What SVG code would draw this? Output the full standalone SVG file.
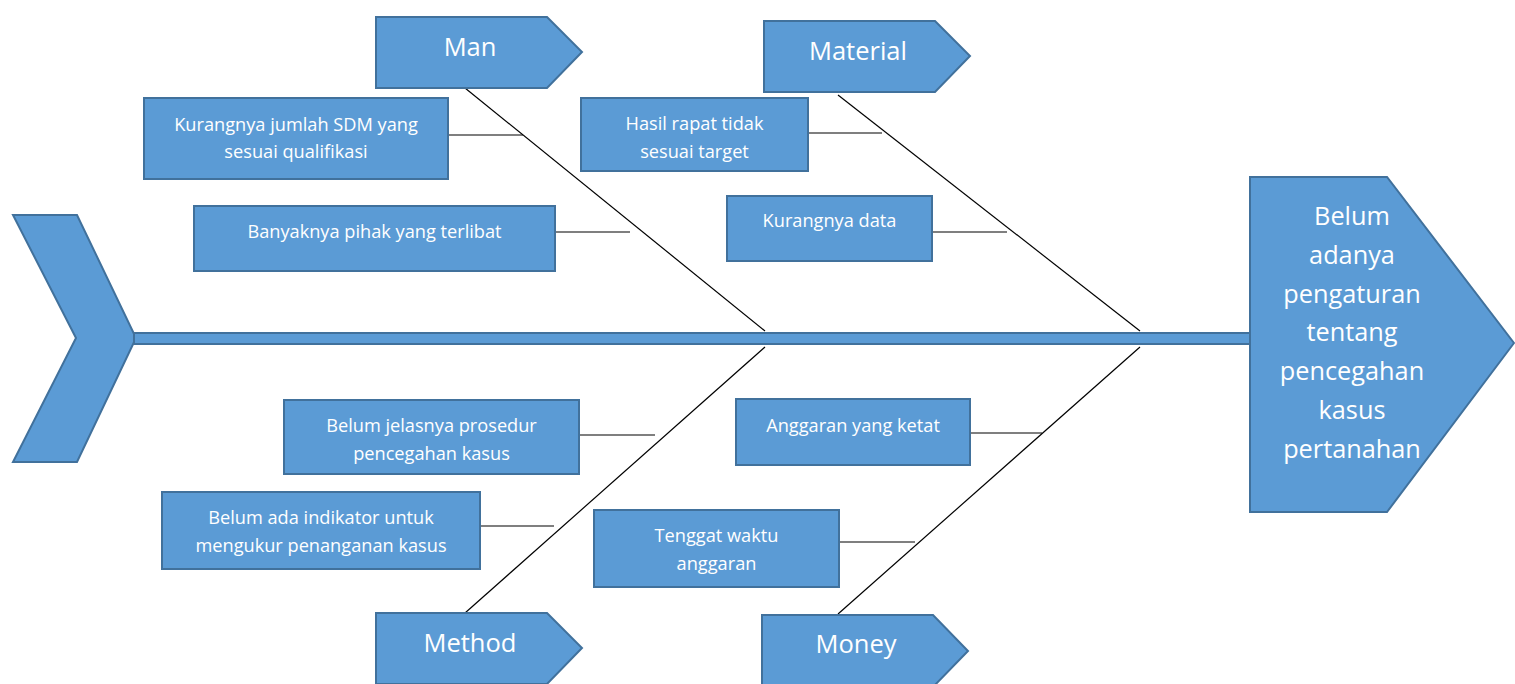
<svg xmlns="http://www.w3.org/2000/svg" width="1515" height="684" viewBox="0 0 1515 684">
<style>
.shape{fill:#5B9BD5;stroke:#41719C;stroke-width:2}
.bone{stroke:#000;stroke-width:1.2;fill:none}
.t{font-family:"Open Sans","Noto Sans",sans-serif;fill:#fff;text-anchor:middle;font-size:18.2px}
.cat{font-family:"Open Sans","Noto Sans",sans-serif;fill:#fff;text-anchor:middle;font-size:25.5px}
.head{font-family:"Open Sans","Noto Sans",sans-serif;fill:#fff;text-anchor:middle;font-size:25.3px}
</style>
<rect width="1515" height="684" fill="#fff"/>
<g id="tail"><polygon class="shape" points="13,215 77,215 136,338 77,462 13,462 76,338"/></g>
<g id="spine"><rect class="shape" x="134" y="333" width="1117" height="11"/></g>
<g id="connectors">
<line class="bone" x1="465" y1="88" x2="765" y2="331"/>
<line class="bone" x1="838" y1="95" x2="1140" y2="331"/>
<line class="bone" x1="765" y1="347" x2="465" y2="613"/>
<line class="bone" x1="1140" y1="347" x2="838" y2="614"/>
<line class="bone" x1="448" y1="135" x2="523" y2="135"/>
<line class="bone" x1="555" y1="232" x2="630" y2="232"/>
<line class="bone" x1="808" y1="133" x2="882" y2="133"/>
<line class="bone" x1="932" y1="232" x2="1007" y2="232"/>
<line class="bone" x1="579" y1="435" x2="655" y2="435"/>
<line class="bone" x1="480" y1="526" x2="554" y2="526"/>
<line class="bone" x1="970" y1="433" x2="1042" y2="433"/>
<line class="bone" x1="839" y1="542" x2="915" y2="542"/>
</g>
<g id="effect"><polygon class="shape" points="1250,177 1387,177 1514,343 1387,512 1250,512"/>
<text class="head" x="1352" y="225">Belum</text>
<text class="head" x="1352" y="264">adanya</text>
<text class="head" x="1352" y="303">pengaturan</text>
<text class="head" x="1352" y="341">tentang</text>
<text class="head" x="1352" y="380">pencegahan</text>
<text class="head" x="1352" y="419">kasus</text>
<text class="head" x="1352" y="458">pertanahan</text>
</g>
<g id="man"><polygon class="shape" points="376,17 547,17 582,52 547,88 376,88"/><text class="cat" x="470" y="56">Man</text></g>
<g id="material"><polygon class="shape" points="764,21 935,21 970,56 935,92 764,92"/><text class="cat" x="858" y="60">Material</text></g>
<g id="method"><polygon class="shape" points="376,613 547,613 582,648 547,684 376,684"/><text class="cat" x="470" y="652">Method</text></g>
<g id="money"><polygon class="shape" points="762,615 933,615 968,651 933,687 762,687"/><text class="cat" x="856" y="653">Money</text></g>
<g id="c1"><rect class="shape" x="144" y="98" width="304" height="81"/><text class="t" x="296" y="131">Kurangnya jumlah SDM yang</text><text class="t" x="296" y="158">sesuai qualifikasi</text></g>
<g id="c2"><rect class="shape" x="194" y="206" width="361" height="65"/><text class="t" x="374.5" y="238">Banyaknya pihak yang terlibat</text></g>
<g id="c3"><rect class="shape" x="581" y="98" width="227" height="73"/><text class="t" x="694.5" y="130">Hasil rapat tidak</text><text class="t" x="694.5" y="158">sesuai target</text></g>
<g id="c4"><rect class="shape" x="727" y="196" width="205" height="65"/><text class="t" x="829.5" y="227">Kurangnya data</text></g>
<g id="c5"><rect class="shape" x="284" y="400" width="295" height="74"/><text class="t" x="431.5" y="432">Belum jelasnya prosedur</text><text class="t" x="431.5" y="460">pencegahan kasus</text></g>
<g id="c6"><rect class="shape" x="162" y="492" width="318" height="77"/><text class="t" x="321" y="524">Belum ada indikator untuk</text><text class="t" x="321" y="552">mengukur penanganan kasus</text></g>
<g id="c7"><rect class="shape" x="736" y="399" width="234" height="66"/><text class="t" x="853" y="432">Anggaran yang ketat</text></g>
<g id="c8"><rect class="shape" x="594" y="510" width="245" height="77"/><text class="t" x="716.5" y="542">Tenggat waktu</text><text class="t" x="716.5" y="570">anggaran</text></g>
</svg>
